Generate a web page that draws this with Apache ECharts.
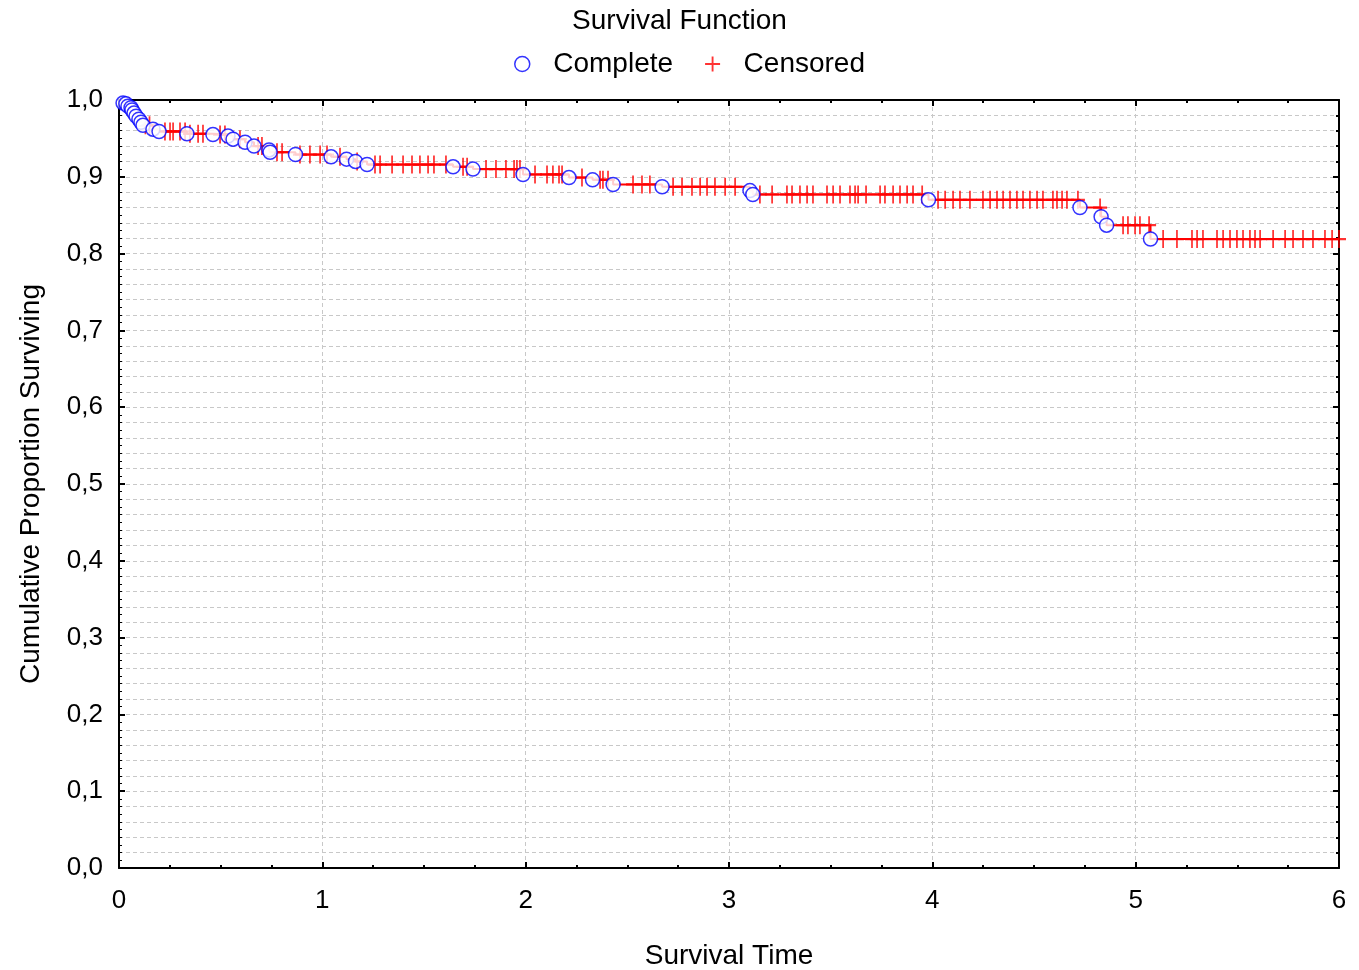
<!DOCTYPE html>
<html>
<head>
<meta charset="utf-8">
<script src="https://cdn.jsdelivr.net/npm/echarts@6/dist/echarts.min.js"></script>
<style>html,body{margin:0;padding:0;background:#fff}#c{width:1359px;height:970px}</style>
</head>
<body>
<div id="c"></div>
<script>
// Complete (event) times and cumulative proportion surviving after each event
const eventTimes = [0.020,0.034,0.044,0.059,0.064,0.074,0.084,0.098,0.108,0.118,0.167,0.197,0.334,0.462,0.536,0.561,0.620,0.664,0.738,0.743,0.868,1.043,1.119,1.163,1.220,1.643,1.741,1.987,2.213,2.329,2.430,2.671,3.103,3.117,3.981,4.726,4.830,4.857,5.073];
const eventSurvival = [0.996,0.995,0.992,0.990,0.987,0.983,0.979,0.975,0.971,0.967,0.962,0.959,0.956,0.955,0.953,0.949,0.945,0.940,0.935,0.932,0.929,0.926,0.923,0.920,0.916,0.913,0.910,0.903,0.899,0.896,0.890,0.887,0.882,0.877,0.870,0.860,0.848,0.837,0.819];
// Censored times
const censoredTimes = [0.050,0.130,0.150,0.226,0.251,0.266,0.300,0.325,0.349,0.389,0.413,0.497,0.521,0.595,0.684,0.703,0.777,0.802,0.890,0.939,0.989,1.023,1.087,1.171,1.259,1.284,1.343,1.397,1.441,1.480,1.520,1.549,1.608,1.692,1.712,1.805,1.854,1.903,1.943,1.957,1.972,2.046,2.105,2.134,2.164,2.179,2.277,2.366,2.380,2.405,2.528,2.572,2.611,2.725,2.769,2.818,2.858,2.892,2.931,2.981,3.030,3.152,3.212,3.285,3.310,3.349,3.384,3.413,3.482,3.512,3.546,3.595,3.620,3.635,3.674,3.743,3.767,3.807,3.841,3.876,3.905,3.950,4.028,4.063,4.102,4.136,4.185,4.249,4.284,4.318,4.348,4.382,4.416,4.446,4.480,4.515,4.544,4.593,4.613,4.638,4.662,4.716,4.825,4.938,4.962,4.997,5.021,5.066,5.135,5.203,5.277,5.302,5.331,5.400,5.430,5.464,5.498,5.528,5.562,5.587,5.612,5.676,5.735,5.774,5.823,5.872,5.931,5.966,6.000];
const xMin = 0, xMax = 6;
const yMin = 0, yMax = 1;

function survivalAt(t){
  let s = 1;
  for (let i = 0; i < eventTimes.length; i++){ if (eventTimes[i] <= t) s = eventSurvival[i]; }
  return s;
}
const stepData = [[0,1]].concat(eventTimes.map((t,i)=>[t,eventSurvival[i]])).concat([[xMax, eventSurvival[eventSurvival.length-1]]]);
const completeData = eventTimes.map((t,i)=>[t,eventSurvival[i]]);
const censoredData = censoredTimes.map(t=>[t, survivalAt(t)]);

const FONT = '"Liberation Sans", Arial, sans-serif';
const plusPath = 'path://M7,0 H9 V7 H16 V9 H9 V16 H7 V9 H0 V7 H7 Z';
const fmtY = v => v.toFixed(1).replace('.', ',');

const chart = echarts.init(document.getElementById('c'), null, {renderer:'canvas'});
chart.setOption({
  animation:false,
  backgroundColor:'#fff',
  title:{text:'Survival Function', left:'center', top:2, textStyle:{fontFamily:FONT, fontSize:28, fontWeight:'normal', color:'#000'}},
  legend:{
    top:45, left:509, itemGap:32, itemWidth:52, itemHeight:15,
    textStyle:{fontFamily:FONT, fontSize:28, color:'#000'},
    data:[
      {name:'Complete', icon:'circle', itemStyle:{color:'#fff', borderColor:'#0000ff', borderWidth:1.5}},
      {name:'Censored', icon:plusPath, itemStyle:{color:'#ff0000'}}
    ]
  },
  grid:{left:119, right:20, top:100, bottom:102, containLabel:false, outerBoundsMode:'none'},
  xAxis:[
    {type:'value', min:xMin, max:xMax, interval:1, position:'bottom',
     name:'Survival Time', nameLocation:'middle', nameGap:74,
     nameTextStyle:{fontFamily:FONT, fontSize:28, color:'#000'},
     axisLine:{onZero:false, lineStyle:{color:'#000', width:2}},
     axisTick:{inside:true, length:6, lineStyle:{color:'#000', width:2}},
     minorTick:{show:true, splitNumber:4, length:3, lineStyle:{color:'#000', width:2}},
     axisLabel:{margin:20, fontFamily:FONT, fontSize:26, color:'#000'},
     splitLine:{show:true, lineStyle:{color:'#c8c8c8', type:[4,3], width:1}}},
    {type:'value', min:xMin, max:xMax, interval:1, position:'top',
     axisLine:{onZero:false, lineStyle:{color:'#000', width:2}},
     axisTick:{inside:true, length:6, lineStyle:{color:'#000', width:2}},
     minorTick:{show:true, splitNumber:4, length:3, lineStyle:{color:'#000', width:2}},
     axisLabel:{show:false}, splitLine:{show:false}}
  ],
  yAxis:[
    {type:'value', min:yMin, max:yMax, interval:0.1, position:'left',
     name:'Cumulative Proportion Surviving', nameLocation:'middle', nameGap:74, nameRotate:90,
     nameTextStyle:{fontFamily:FONT, fontSize:28, color:'#000'},
     axisLine:{onZero:false, lineStyle:{color:'#000', width:2}},
     axisTick:{inside:true, length:6, lineStyle:{color:'#000', width:2}},
     minorTick:{show:true, splitNumber:10, length:3, lineStyle:{color:'#000', width:1}},
     axisLabel:{margin:16, fontFamily:FONT, fontSize:26, color:'#000', formatter:fmtY},
     splitLine:{show:false}},
    {type:'value', min:yMin, max:yMax, interval:0.1, position:'right',
     axisLine:{onZero:false, lineStyle:{color:'#000', width:2}},
     axisTick:{inside:true, length:6, lineStyle:{color:'#000', width:2}},
     minorTick:{show:true, splitNumber:5, length:3, lineStyle:{color:'#000', width:2}},
     axisLabel:{show:false},
     splitLine:{show:true, lineStyle:{color:'#c8c8c8', type:[4,3], width:1}},
     minorSplitLine:{show:true, lineStyle:{color:'#c8c8c8', type:[4,3], width:1}}}
  ],
  series:[
    {name:'KM', type:'line', step:'end', data:stepData, showSymbol:false, symbol:'none',
     lineStyle:{color:'#ff0000', width:2}, z:3, silent:true},
    {name:'Censored', type:'scatter', data:censoredData, symbol:plusPath, symbolSize:[14,18],
     itemStyle:{color:'#ff0000'}, z:4},
    {name:'Complete', type:'scatter', data:completeData, symbol:'circle', symbolSize:14,
     itemStyle:{color:'#fff', borderColor:'#0000ff', borderWidth:1.5}, z:5}
  ]
});
</script>
</body>
</html>
